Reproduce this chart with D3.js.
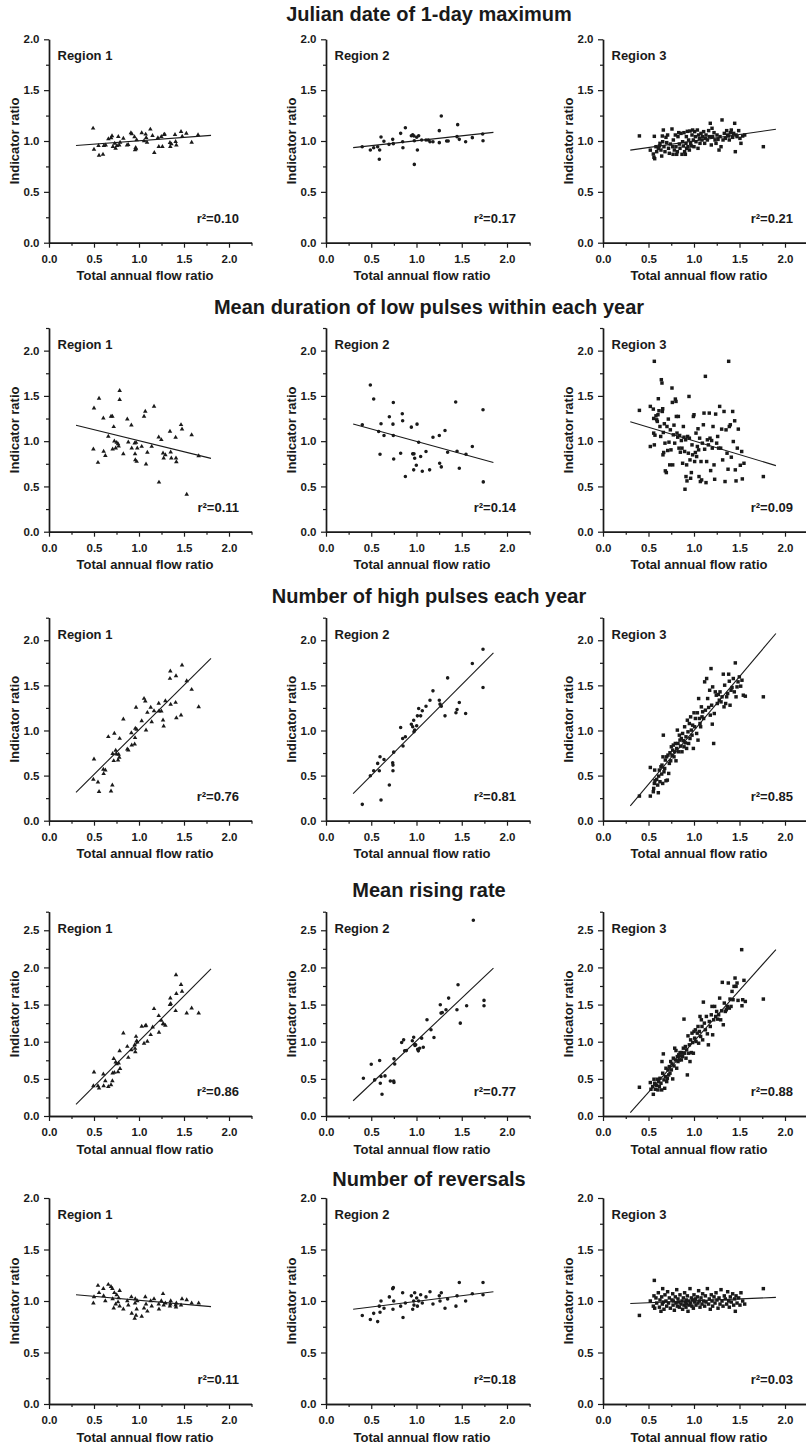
<!DOCTYPE html>
<html><head><meta charset="utf-8">
<script src="https://cdn.jsdelivr.net/npm/d3@7"></script>
<style>
html,body{margin:0;padding:0;background:#fff;}
svg text{font-family:"Liberation Sans",Arial,Helvetica,sans-serif;font-weight:bold;fill:#1a1a1a;}
</style></head>
<body>
<script>
// ---------------- DATA ----------------
const indicatorTitles = ["Julian date of 1-day maximum","Mean duration of low pulses within each year","Number of high pulses each year","Mean rising rate","Number of reversals"];
const regionNames = ["Region 1","Region 2","Region 3"];
const r2Values = [["0.10","0.17","0.21"],["0.11","0.14","0.09"],["0.76","0.81","0.85"],["0.86","0.77","0.88"],["0.11","0.18","0.03"]];
const yMaxima = [2.0,2.25,2.25,2.75,2.0];
const xTickLabels = ["0.0","0.5","1.0","1.5","2.0"];
// regression line endpoints [x1,y1,x2,y2]
const fitLines = [
 [[0.3,0.955,1.8,1.055],[0.3,0.935,1.85,1.085],[0.3,0.91,1.9,1.115]],
 [[0.3,1.175,1.8,0.81],[0.3,1.19,1.85,0.765],[0.3,1.215,1.9,0.73]],
 [[0.3,0.315,1.8,1.8],[0.3,0.3,1.85,1.86],[0.3,0.165,1.9,2.075]],
 [[0.3,0.155,1.8,1.98],[0.3,0.205,1.85,1.99],[0.3,0.045,1.9,2.24]],
 [[0.3,1.06,1.8,0.945],[0.3,0.92,1.85,1.09],[0.3,0.975,1.9,1.035]]
];

const julian1 = [[0.49,1.125],[0.5,0.918],[0.556,0.859],[0.55,0.954],[0.6,0.869],[0.61,0.954],[0.63,0.96],[0.66,1.02],[0.69,1.03],[0.70,1.05],[0.71,0.944],[0.73,0.977],[0.74,0.928],[0.755,0.954],[0.77,1.043],[0.78,0.96],[0.79,0.987],[0.826,1.026],[0.867,0.96],[0.88,0.964],[0.91,1.08],[0.92,1.069],[0.95,1.04],[0.956,0.911],[0.963,0.934],[0.967,0.921],[0.974,1.01],[1.03,1.08],[1.056,1.0],[1.074,1.066],[1.08,1.033],[1.089,0.987],[1.126,1.115],[1.15,1.052],[1.17,0.885],[1.21,1.03],[1.22,0.944],[1.248,1.043],[1.26,0.944],[1.278,1.062],[1.285,1.066],[1.344,0.984],[1.348,0.944],[1.36,0.97],[1.40,1.062],[1.407,0.993],[1.415,0.96],[1.467,1.092],[1.48,1.046],[1.526,1.075],[1.585,0.987],[1.656,1.059]];
const julian2 = [[0.40,0.944],[0.49,0.911],[0.527,0.934],[0.571,0.944],[0.593,0.911],[0.589,0.82],[0.608,1.039],[0.64,0.997],[0.696,0.967],[0.737,1.016],[0.744,0.974],[0.825,1.075],[0.847,0.993],[0.85,0.934],[0.877,1.131],[0.943,1.052],[0.958,1.062],[0.972,1.049],[0.976,1.003],[0.976,0.77],[1.002,1.036],[1.01,0.911],[1.024,1.052],[1.057,1.01],[1.105,1.01],[1.13,1.01],[1.149,0.993],[1.182,0.993],[1.252,1.102],[1.252,0.984],[1.274,1.246],[1.333,1.0],[1.35,1.0],[1.448,1.043],[1.455,1.161],[1.473,1.016],[1.543,0.993],[1.617,1.033],[1.731,1.069],[1.735,1.003]];
const julian3 = [[0.40,1.05],[0.52,0.91],[0.553,0.872],[0.56,0.84],[0.568,0.826],[0.564,1.046],[0.582,0.944],[0.59,0.895],[0.608,0.928],[0.62,0.951],[0.626,0.977],[0.637,0.911],[0.645,0.852],[0.652,1.049],[0.656,0.993],[0.663,1.108],[0.67,0.944],[0.681,0.895],[0.692,1.036],[0.7,0.984],[0.71,1.059],[0.72,0.928],[0.729,0.879],[0.74,0.97],[0.758,1.118],[0.766,0.944],[0.77,0.869],[0.773,1.01],[0.784,0.911],[0.795,1.059],[0.802,0.944],[0.81,0.869],[0.817,0.895],[0.824,1.043],[0.832,1.082],[0.839,0.97],[0.846,0.928],[0.857,1.075],[0.868,0.869],[0.875,0.993],[0.883,0.951],[0.89,1.082],[0.897,0.895],[0.905,0.869],[0.912,0.977],[0.916,1.043],[0.919,0.928],[0.927,1.095],[0.934,0.944],[0.941,1.01],[0.949,0.911],[0.956,1.098],[0.963,0.977],[0.971,0.951],[0.978,1.059],[0.985,1.108],[0.993,1.01],[1.0,0.944],[1.007,1.092],[1.015,1.043],[1.022,0.993],[1.037,1.108],[1.044,0.928],[1.051,1.059],[1.059,1.026],[1.066,0.977],[1.077,1.075],[1.088,1.01],[1.095,1.043],[1.106,1.092],[1.117,0.977],[1.125,1.026],[1.132,1.059],[1.147,1.01],[1.161,1.102],[1.168,1.043],[1.179,1.174],[1.19,0.961],[1.198,1.125],[1.205,1.043],[1.22,1.082],[1.231,1.01],[1.242,0.977],[1.253,1.059],[1.264,1.016],[1.275,0.911],[1.286,1.043],[1.297,0.944],[1.308,1.207],[1.319,1.01],[1.333,1.075],[1.344,1.026],[1.359,1.102],[1.37,1.059],[1.381,1.049],[1.388,1.01],[1.399,1.082],[1.41,1.108],[1.425,1.036],[1.436,1.075],[1.447,1.174],[1.454,0.895],[1.462,1.059],[1.473,1.043],[1.491,1.102],[1.505,1.026],[1.516,0.977],[1.535,1.049],[1.557,1.059],[1.762,0.944]];

const lowdur1 = [[0.493,0.911],[0.5,1.365],[0.544,0.764],[0.556,1.472],[0.604,1.255],[0.607,0.886],[0.626,0.841],[0.659,1.052],[0.689,1.273],[0.704,1.273],[0.707,0.911],[0.719,1.159],[0.726,1.0],[0.741,0.923],[0.752,0.985],[0.767,0.97],[0.774,0.945],[0.785,1.557],[0.785,1.458],[0.826,0.86],[0.87,1.244],[0.881,0.989],[0.915,1.177],[0.919,0.923],[0.952,0.978],[0.956,0.86],[0.959,0.793],[0.967,0.985],[0.974,0.775],[0.981,0.923],[1.03,0.941],[1.056,1.273],[1.07,1.328],[1.078,0.745],[1.093,0.875],[1.141,0.941],[1.167,1.384],[1.219,1.044],[1.222,0.546],[1.248,1.015],[1.267,0.867],[1.274,0.812],[1.293,0.849],[1.344,1.107],[1.352,0.878],[1.359,0.812],[1.407,1.041],[1.411,0.812],[1.415,0.771],[1.467,1.181],[1.478,1.133],[1.53,0.413],[1.585,1.07],[1.663,0.838]];
const lowdur2 = [[0.401,1.181],[0.49,1.62],[0.527,1.465],[0.582,1.107],[0.597,0.856],[0.608,1.192],[0.641,1.063],[0.7,1.269],[0.74,1.188],[0.744,1.428],[0.744,1.063],[0.748,0.804],[0.825,0.867],[0.843,1.303],[0.847,1.225],[0.877,0.609],[0.943,1.155],[0.958,0.86],[0.969,0.683],[0.972,0.86],[0.98,0.812],[0.998,0.734],[1.006,1.188],[1.024,0.989],[1.046,0.83],[1.064,0.668],[1.105,0.886],[1.145,0.683],[1.182,1.044],[1.252,1.063],[1.256,0.756],[1.274,0.716],[1.315,1.118],[1.344,0.878],[1.433,1.432],[1.448,0.889],[1.473,0.701],[1.547,0.856],[1.617,0.941],[1.735,1.347],[1.738,0.55]];
const lowdur3 = [[0.40,1.34],[0.52,1.384],[0.52,0.941],[0.553,1.354],[0.557,1.251],[0.557,1.089],[0.564,1.882],[0.564,0.959],[0.571,1.066],[0.582,1.28],[0.59,1.236],[0.597,1.218],[0.604,1.292],[0.608,1.469],[0.615,1.336],[0.626,1.162],[0.634,1.052],[0.641,1.679],[0.648,1.642],[0.652,1.328],[0.656,1.358],[0.659,0.849],[0.663,1.096],[0.667,0.875],[0.674,1.192],[0.681,0.978],[0.685,0.672],[0.696,0.653],[0.703,1.162],[0.711,0.897],[0.718,1.244],[0.725,0.989],[0.733,0.738],[0.74,1.125],[0.747,0.904],[0.758,1.587],[0.762,1.428],[0.766,0.738],[0.773,1.07],[0.78,1.177],[0.788,0.978],[0.795,1.465],[0.802,1.439],[0.806,1.273],[0.813,1.089],[0.821,1.044],[0.828,1.273],[0.835,0.923],[0.842,1.063],[0.85,0.878],[0.861,1.007],[0.868,0.923],[0.875,0.756],[0.883,1.162],[0.89,1.044],[0.897,0.886],[0.901,0.469],[0.908,1.015],[0.912,0.609],[0.919,0.738],[0.923,0.561],[0.93,1.052],[0.938,0.867],[0.945,1.494],[0.949,1.033],[0.956,0.793],[0.963,0.59],[0.971,0.653],[0.978,0.959],[0.985,0.849],[0.993,1.273],[1.0,1.292],[1.007,0.775],[1.015,0.875],[1.022,1.089],[1.029,0.83],[1.037,0.941],[1.044,1.137],[1.051,0.904],[1.055,0.609],[1.062,1.033],[1.07,0.554],[1.077,0.775],[1.084,0.572],[1.092,0.978],[1.103,1.181],[1.11,1.31],[1.117,0.911],[1.125,1.716],[1.132,0.542],[1.139,0.775],[1.147,1.015],[1.158,0.959],[1.168,1.31],[1.176,1.033],[1.183,0.675],[1.194,1.007],[1.201,0.923],[1.209,1.162],[1.22,0.738],[1.227,0.579],[1.238,1.299],[1.249,0.978],[1.26,1.052],[1.271,0.923],[1.282,1.384],[1.293,0.923],[1.304,1.133],[1.315,0.793],[1.33,1.328],[1.341,0.554],[1.352,1.125],[1.363,0.867],[1.374,0.69],[1.381,1.882],[1.388,1.162],[1.399,1.181],[1.41,0.823],[1.425,1.328],[1.432,0.996],[1.447,1.225],[1.454,0.683],[1.462,0.561],[1.476,0.923],[1.487,1.133],[1.509,0.734],[1.524,0.886],[1.531,0.583],[1.549,0.756],[1.762,0.609]];

const highnum1 = [[0.493,0.458],[0.5,0.683],[0.544,0.428],[0.556,0.321],[0.604,0.568],[0.607,0.52],[0.626,0.561],[0.659,0.93],[0.689,0.328],[0.704,0.395],[0.707,0.742],[0.719,0.664],[0.726,0.967],[0.741,0.779],[0.752,0.738],[0.767,0.672],[0.774,0.734],[0.781,0.701],[0.785,0.911],[0.826,1.125],[0.87,0.793],[0.881,0.782],[0.915,0.974],[0.919,0.838],[0.952,0.849],[0.956,0.919],[0.959,1.022],[0.967,1.255],[0.974,1.011],[1.03,1.107],[1.056,1.354],[1.07,1.325],[1.078,1.004],[1.093,1.199],[1.13,1.255],[1.141,1.096],[1.167,1.218],[1.219,1.299],[1.222,1.214],[1.248,1.214],[1.267,1.114],[1.274,1.048],[1.293,1.328],[1.344,1.576],[1.348,1.657],[1.352,1.288],[1.407,1.31],[1.411,1.605],[1.415,1.14],[1.467,1.17],[1.478,1.723],[1.53,1.55],[1.585,1.454],[1.663,1.262]];
const highnum2 = [[0.401,0.181],[0.49,0.498],[0.527,0.554],[0.571,0.635],[0.589,0.554],[0.597,0.708],[0.608,0.229],[0.641,0.679],[0.7,0.395],[0.737,0.642],[0.74,0.616],[0.74,0.554],[0.748,0.76],[0.825,1.033],[0.847,0.911],[0.851,0.827],[0.877,0.93],[0.943,1.07],[0.958,1.041],[0.969,1.114],[0.972,0.985],[0.98,1.004],[1.002,1.052],[1.01,1.162],[1.024,1.244],[1.046,1.162],[1.064,1.218],[1.105,1.269],[1.149,1.336],[1.182,1.439],[1.252,1.336],[1.26,1.292],[1.274,1.269],[1.315,1.162],[1.344,1.583],[1.436,1.196],[1.448,1.232],[1.473,1.31],[1.543,1.188],[1.617,1.742],[1.735,1.9],[1.735,1.476]];
const highnum3 = [[0.4,0.273],[0.52,0.273],[0.52,0.59],[0.553,0.321],[0.557,0.358],[0.564,0.413],[0.568,0.561],[0.571,0.443],[0.59,0.458],[0.601,0.395],[0.608,0.31],[0.612,0.494],[0.619,0.561],[0.626,0.432],[0.637,0.598],[0.645,0.517],[0.648,0.616],[0.656,0.413],[0.659,0.708],[0.663,0.948],[0.67,0.542],[0.678,0.579],[0.685,0.672],[0.692,0.443],[0.7,0.708],[0.707,0.45],[0.714,0.727],[0.722,0.524],[0.729,0.635],[0.736,0.753],[0.744,0.664],[0.751,0.819],[0.758,0.727],[0.766,0.782],[0.773,0.838],[0.78,0.708],[0.788,0.764],[0.795,0.856],[0.802,0.664],[0.81,0.801],[0.817,1.004],[0.824,0.856],[0.832,0.764],[0.839,0.948],[0.846,0.893],[0.853,0.827],[0.861,0.911],[0.868,0.764],[0.875,0.967],[0.883,0.886],[0.89,0.819],[0.897,1.041],[0.905,0.863],[0.912,0.93],[0.919,0.801],[0.927,1.114],[0.934,0.985],[0.941,0.856],[0.949,1.077],[0.956,0.911],[0.963,1.151],[0.971,1.004],[0.978,0.948],[0.985,1.059],[0.993,0.801],[1.0,1.196],[1.007,1.041],[1.015,1.133],[1.029,0.967],[1.037,1.196],[1.044,0.893],[1.051,1.354],[1.059,1.133],[1.066,1.077],[1.073,1.041],[1.081,1.262],[1.088,1.151],[1.095,1.207],[1.106,1.133],[1.117,1.539],[1.125,1.225],[1.139,1.576],[1.15,1.354],[1.161,1.255],[1.172,1.446],[1.179,1.17],[1.187,1.686],[1.194,1.28],[1.201,1.07],[1.205,1.483],[1.216,0.856],[1.223,1.188],[1.234,1.428],[1.245,1.391],[1.256,1.299],[1.267,1.399],[1.278,1.336],[1.286,1.428],[1.297,1.317],[1.308,1.373],[1.322,1.624],[1.33,1.262],[1.337,1.502],[1.348,1.299],[1.359,1.373],[1.37,1.41],[1.381,1.624],[1.388,1.546],[1.396,1.28],[1.407,1.446],[1.418,1.476],[1.432,1.576],[1.443,1.428],[1.454,1.749],[1.462,1.373],[1.473,1.483],[1.484,1.539],[1.498,1.594],[1.513,1.491],[1.527,1.557],[1.542,1.391],[1.564,1.38],[1.762,1.373]];

const rise1 = [[0.493,0.405],[0.5,0.589],[0.544,0.405],[0.556,0.373],[0.604,0.562],[0.607,0.405],[0.626,0.472],[0.659,0.396],[0.689,0.418],[0.704,0.472],[0.707,0.576],[0.719,0.773],[0.726,0.585],[0.741,0.724],[0.752,0.701],[0.767,0.594],[0.774,0.71],[0.785,0.877],[0.789,0.638],[0.826,1.115],[0.87,0.935],[0.881,0.787],[0.915,0.89],[0.952,0.958],[0.956,0.908],[0.959,0.863],[0.967,1.07],[0.974,1.012],[0.981,0.994],[1.03,1.205],[1.056,0.976],[1.07,1.214],[1.078,1.219],[1.093,1.003],[1.13,1.093],[1.152,1.196],[1.167,1.443],[1.219,1.349],[1.222,1.124],[1.248,1.286],[1.267,1.241],[1.274,1.237],[1.293,1.219],[1.344,1.497],[1.348,1.587],[1.352,1.511],[1.407,1.416],[1.411,1.898],[1.415,1.646],[1.467,1.767],[1.478,1.677],[1.53,1.385],[1.585,1.452],[1.663,1.385]];
const rise2 = [[0.413,0.508],[0.5,0.697],[0.538,0.486],[0.593,0.746],[0.6,0.441],[0.608,0.531],[0.619,0.292],[0.652,0.54],[0.711,0.472],[0.748,0.472],[0.751,0.45],[0.751,0.769],[0.759,0.701],[0.836,0.989],[0.858,1.025],[0.869,0.878],[0.888,0.88],[0.954,1.012],[0.969,1.061],[0.98,0.967],[0.983,0.949],[0.991,0.958],[1.013,0.899],[1.02,0.877],[1.035,0.913],[1.057,1.048],[1.075,0.926],[1.116,1.295],[1.16,1.16],[1.193,1.057],[1.263,1.497],[1.271,1.385],[1.285,1.394],[1.326,1.43],[1.355,1.587],[1.447,1.43],[1.459,1.767],[1.484,1.25],[1.554,1.484],[1.628,2.635],[1.746,1.556],[1.746,1.484]];
const rise3 = [[0.4,0.387],[0.52,0.45],[0.527,0.36],[0.546,0.396],[0.553,0.292],[0.56,0.495],[0.568,0.441],[0.575,0.36],[0.59,0.414],[0.597,0.495],[0.604,0.351],[0.612,0.463],[0.619,0.396],[0.626,0.508],[0.637,0.441],[0.645,0.351],[0.648,0.733],[0.656,0.576],[0.663,0.836],[0.67,0.486],[0.678,0.373],[0.685,0.531],[0.692,0.643],[0.7,0.463],[0.707,0.508],[0.714,0.621],[0.722,0.553],[0.729,0.665],[0.736,0.576],[0.744,0.733],[0.751,0.621],[0.758,0.701],[0.766,0.499],[0.773,0.778],[0.78,0.674],[0.788,0.913],[0.795,0.755],[0.802,0.881],[0.81,0.643],[0.817,0.8],[0.824,0.733],[0.832,0.823],[0.839,0.755],[0.846,0.854],[0.853,0.809],[0.861,0.755],[0.868,0.854],[0.875,0.8],[0.883,0.913],[0.89,1.304],[0.897,0.845],[0.905,0.935],[0.912,0.778],[0.919,0.89],[0.927,0.553],[0.934,1.079],[0.941,0.845],[0.949,0.958],[0.956,0.733],[0.963,1.025],[0.971,0.854],[0.978,1.115],[0.985,0.989],[0.993,0.845],[1.0,1.138],[1.007,1.048],[1.015,1.16],[1.022,1.003],[1.037,1.115],[1.044,1.205],[1.051,0.98],[1.059,1.138],[1.066,1.34],[1.073,1.07],[1.081,1.295],[1.088,1.205],[1.095,1.025],[1.103,1.533],[1.114,1.25],[1.125,1.16],[1.136,1.34],[1.147,1.106],[1.158,0.958],[1.168,1.272],[1.179,1.205],[1.19,1.362],[1.198,1.475],[1.205,1.093],[1.216,1.295],[1.227,1.475],[1.238,1.34],[1.249,1.407],[1.26,1.304],[1.271,1.362],[1.282,1.587],[1.293,1.295],[1.304,1.416],[1.311,1.799],[1.322,1.228],[1.333,1.52],[1.344,1.407],[1.355,1.43],[1.366,1.475],[1.377,1.79],[1.388,1.452],[1.396,1.574],[1.407,1.475],[1.418,1.677],[1.429,1.565],[1.44,1.745],[1.451,1.857],[1.462,1.745],[1.473,1.79],[1.484,1.556],[1.524,2.239],[1.527,1.484],[1.535,1.565],[1.549,1.826],[1.564,1.542],[1.762,1.574]];

const rev1 = [[0.493,0.98],[0.5,1.04],[0.544,1.15],[0.556,1.08],[0.604,1.12],[0.607,1.05],[0.626,1.0],[0.659,1.16],[0.689,1.14],[0.704,1.12],[0.707,1.02],[0.719,0.93],[0.726,1.08],[0.741,0.97],[0.752,1.06],[0.767,0.99],[0.774,1.03],[0.785,0.95],[0.785,1.1],[0.826,0.92],[0.87,1.0],[0.881,0.96],[0.915,1.04],[0.919,0.88],[0.952,0.83],[0.956,0.98],[0.959,1.02],[0.967,0.86],[0.974,0.92],[0.981,1.0],[1.03,0.85],[1.056,0.93],[1.07,1.04],[1.078,0.97],[1.093,0.9],[1.13,1.0],[1.141,0.95],[1.167,1.02],[1.219,0.97],[1.222,0.92],[1.248,1.0],[1.267,1.07],[1.274,0.96],[1.293,0.98],[1.344,0.95],[1.348,0.97],[1.352,1.0],[1.407,0.96],[1.411,0.94],[1.415,0.98],[1.467,0.96],[1.478,1.02],[1.53,1.01],[1.585,0.98],[1.663,0.98]];
const rev2 = [[0.401,0.86],[0.49,0.82],[0.527,0.88],[0.571,0.80],[0.589,0.95],[0.597,0.89],[0.608,1.0],[0.641,0.93],[0.7,1.04],[0.737,1.12],[0.74,0.92],[0.744,1.13],[0.748,1.0],[0.825,0.95],[0.847,1.08],[0.851,0.84],[0.877,0.98],[0.943,1.05],[0.958,0.92],[0.969,1.0],[0.972,0.96],[0.98,1.08],[1.002,1.03],[1.01,0.95],[1.024,1.0],[1.046,1.06],[1.064,0.98],[1.105,1.04],[1.149,1.09],[1.182,0.97],[1.252,1.05],[1.26,1.0],[1.274,1.08],[1.315,0.93],[1.344,1.02],[1.436,0.95],[1.448,1.05],[1.473,1.18],[1.543,1.0],[1.617,1.07],[1.735,1.18],[1.735,1.06]];
const rev3 = [[0.40,0.86],[0.52,1.0],[0.553,0.95],[0.56,1.05],[0.568,0.93],[0.564,1.2],[0.582,1.03],[0.59,0.98],[0.608,1.08],[0.62,0.94],[0.626,1.01],[0.637,0.9],[0.645,1.04],[0.652,0.97],[0.656,1.12],[0.663,0.99],[0.67,0.92],[0.681,1.06],[0.692,1.0],[0.7,0.95],[0.71,1.09],[0.72,0.98],[0.729,1.03],[0.74,0.93],[0.758,1.01],[0.766,1.07],[0.77,0.96],[0.773,1.0],[0.784,0.91],[0.795,1.04],[0.802,0.98],[0.81,1.11],[0.817,0.95],[0.824,1.02],[0.832,0.99],[0.839,0.94],[0.846,1.06],[0.857,0.97],[0.868,1.0],[0.875,0.92],[0.883,1.03],[0.89,0.96],[0.897,1.08],[0.905,0.99],[0.912,0.94],[0.916,1.01],[0.919,0.97],[0.927,1.05],[0.934,0.9],[0.941,1.0],[0.949,0.96],[0.956,1.12],[0.963,0.98],[0.971,1.03],[0.978,0.95],[0.985,1.01],[0.993,0.93],[1.0,1.06],[1.007,0.99],[1.015,1.02],[1.022,0.96],[1.037,1.04],[1.044,0.98],[1.051,1.1],[1.059,1.0],[1.066,0.94],[1.077,1.03],[1.088,0.97],[1.095,1.07],[1.106,1.0],[1.117,0.95],[1.125,1.05],[1.132,0.99],[1.147,1.12],[1.161,0.97],[1.168,1.02],[1.179,0.92],[1.19,1.06],[1.198,1.0],[1.205,0.95],[1.22,1.04],[1.231,0.98],[1.242,1.08],[1.253,1.01],[1.264,0.93],[1.275,1.03],[1.286,0.97],[1.297,1.11],[1.308,1.0],[1.319,0.95],[1.333,1.05],[1.344,1.02],[1.359,0.97],[1.37,1.09],[1.381,1.0],[1.388,0.94],[1.399,1.04],[1.41,0.99],[1.425,1.07],[1.436,0.96],[1.447,1.02],[1.454,0.9],[1.462,1.05],[1.473,0.98],[1.491,1.03],[1.505,0.96],[1.516,1.08],[1.535,1.0],[1.557,0.97],[1.762,1.12]];

const panelData = [[julian1,julian2,julian3],[lowdur1,lowdur2,lowdur3],[highnum1,highnum2,highnum3],[rise1,rise2,rise3],[rev1,rev2,rev3]];

// ---------------- LAYOUT ----------------
const W = 806, H = 1456;
const colLeft = [49, 326, 603];
const colUnit = [90, 90.5, 91];          // px per x unit
const rowTop = [39.3, 328, 617.7, 911.7, 1198];
const rowBottom = [242.7, 531.7, 820.7, 1116, 1404];
const titleBase = [21, 314.3, 603.3, 896.7, 1186];
const titleX = 429;
const ink = "#1a1a1a";

const svg = d3.select("body").append("svg").attr("width", W).attr("height", H)
  .style("display","block").style("background","#fff");

const symbols = [d3.symbol().type(d3.symbolTriangle).size(9),
                 d3.symbol().type(d3.symbolCircle).size(10),
                 d3.symbol().type(d3.symbolSquare).size(12)];

indicatorTitles.forEach((t, r) => {
  svg.append("text").attr("x", titleX).attr("y", titleBase[r])
    .attr("text-anchor","middle").style("font-size","20px").text(t);

  const ymax = yMaxima[r];
  const majorY = d3.range(0, ymax + 1e-9, 0.5);
  const minorY = d3.range(0.25, ymax + 1e-9, 0.5);

  for (let c = 0; c < 3; c++) {
    const left = colLeft[c];
    const x = d3.scaleLinear().domain([0, 2.25]).range([left, left + 2.25 * colUnit[c]]);
    const y = d3.scaleLinear().domain([0, ymax]).range([rowBottom[r], rowTop[r]]);
    const g = svg.append("g");

    // x axis
    const xa = g.append("g").attr("transform", `translate(0,${rowBottom[r]})`)
      .call(d3.axisBottom(x).tickValues([0,0.5,1,1.5,2]).tickFormat((d,i)=>xTickLabels[i]).tickSize(5).tickSizeOuter(0).tickPadding(7));
    g.append("g").attr("transform", `translate(0,${rowBottom[r]})`)
      .call(d3.axisBottom(x).tickValues([0.25,0.75,1.25,1.75,2.25]).tickFormat("").tickSize(3).tickSizeOuter(0));
    // y axis
    g.append("g").attr("transform", `translate(${left},0)`)
      .call(d3.axisLeft(y).tickValues(majorY).tickFormat(d3.format(".1f")).tickSize(5).tickSizeOuter(0).tickPadding(4.5));
    g.append("g").attr("transform", `translate(${left},0)`)
      .call(d3.axisLeft(y).tickValues(minorY).tickFormat("").tickSize(3).tickSizeOuter(0));

    g.selectAll(".domain").attr("stroke", ink).attr("stroke-width", 1.4);
    g.selectAll(".tick line").attr("stroke", ink).attr("stroke-width", 1.2);
    g.selectAll(".tick text").attr("fill", ink).style("font-size","11.5px")
      .style("font-family","'Liberation Sans',Arial,sans-serif").style("font-weight","bold");

    // axis titles
    g.append("text").attr("x", left + 96).attr("y", rowBottom[r] + 37.5)
      .attr("text-anchor","middle").style("font-size","13px").text("Total annual flow ratio");
    g.append("text").attr("transform", `translate(${left - 30},${(rowTop[r] + rowBottom[r]) / 2}) rotate(-90)`)
      .attr("text-anchor","middle").style("font-size","13px").text("Indicator ratio");

    // region label
    g.append("text").attr("x", left + 8.5).attr("y", rowTop[r] + 21)
      .style("font-size","13px").text(regionNames[c]);
    // r2 label
    g.append("text").attr("x", left + 190).attr("y", rowBottom[r] - 20)
      .attr("text-anchor","end").style("font-size","13px").text("r\u00B2=" + r2Values[r][c]);

    // points
    g.append("g").selectAll("path").data(panelData[r][c]).join("path")
      .attr("d", symbols[c])
      .attr("transform", d => `translate(${x(d[0])},${y(d[1])})`)
      .attr("fill", ink);

    // regression line
    const f = fitLines[r][c];
    g.append("line").attr("x1", x(f[0])).attr("y1", y(f[1])).attr("x2", x(f[2])).attr("y2", y(f[3]))
      .attr("stroke", ink).attr("stroke-width", 1.1);
  }
});
</script>
</body></html>
